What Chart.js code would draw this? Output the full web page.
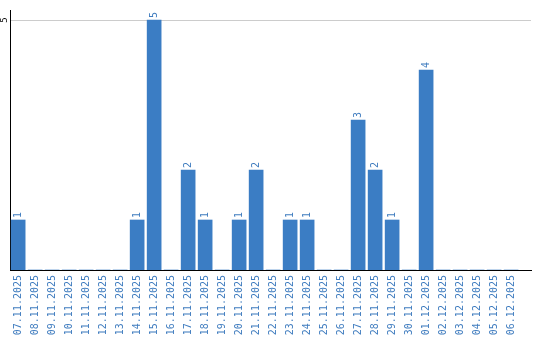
<!DOCTYPE html>
<html><head><meta charset="utf-8">
<script src="https://cdn.jsdelivr.net/npm/chart.js@4/dist/chart.umd.min.js"></script>
<style>html,body{margin:0;padding:0;background:#fff}#wrap{width:540px;height:340px}</style>
</head><body><div id="wrap"><canvas id="c" width="540" height="340"></canvas></div>
<script>
const categories = ["07.11.2025","08.11.2025","09.11.2025","10.11.2025","11.11.2025","12.11.2025","13.11.2025","14.11.2025","15.11.2025","16.11.2025","17.11.2025","18.11.2025","19.11.2025","20.11.2025","21.11.2025","22.11.2025","23.11.2025","24.11.2025","25.11.2025","26.11.2025","27.11.2025","28.11.2025","29.11.2025","30.11.2025","01.12.2025","02.12.2025","03.12.2025","04.12.2025","05.12.2025","06.12.2025"];
const counts = [1,0,0,0,0,0,0,1,5,0,2,1,0,1,2,0,1,1,0,0,3,2,1,0,4,0,0,0,0,0];
const yTicks = [5];

const BLUE = '#3b7dc4';
const TEXT_BLUE = '#3f7cbf';
const FONT = '"DejaVu Sans Mono", monospace';

const points = categories.map((c, i) => ({x: i, y: counts[i]}));

const labelPlugin = {
  id: 'labels',
  afterDatasetsDraw(chart) {
    const ctx = chart.ctx;
    const meta = chart.getDatasetMeta(0);
    ctx.save();
    ctx.fillStyle = TEXT_BLUE;
    ctx.font = '10px ' + FONT;
    ctx.textAlign = 'left';
    ctx.textBaseline = 'middle';
    meta.data.forEach((el, i) => {
      const v = counts[i];
      if (!v) return;
      ctx.save();
      ctx.translate(el.x, el.y - 2);
      ctx.rotate(-Math.PI / 2);
      ctx.fillText(String(v), 0, 0);
      ctx.restore();
    });
    const ys = chart.scales.y;
    ctx.fillStyle = '#000';
    ctx.font = '9px ' + FONT;
    ctx.textAlign = 'center';
    yTicks.forEach(t => {
      ctx.save();
      ctx.translate(5, ys.getPixelForValue(t));
      ctx.rotate(-Math.PI / 2);
      ctx.fillText(String(t), 0, 0);
      ctx.restore();
    });
    ctx.restore();
  }
};

new Chart(document.getElementById('c'), {
  type: 'bar',
  data: { datasets: [{ data: points, backgroundColor: BLUE, barThickness: 14, borderWidth: 0 }] },
  plugins: [labelPlugin],
  options: {
    responsive: false,
    animation: false,
    layout: { padding: { left: 0, top: 10, right: 9, bottom: 0 } },
    plugins: { legend: { display: false }, tooltip: { enabled: false } },
    scales: {
      x: {
        type: 'linear',
        offset: false,
        min: -0.48, max: 30.17,
        afterBuildTicks: (axis) => { axis.ticks = categories.map((_, i) => ({ value: i })); },
        afterFit: (s) => { s.height = 70; s.paddingLeft = 0; s.paddingRight = 0; },
        grid: { display: false, drawTicks: false, offset: false },
        border: { display: true, color: '#000', width: 1 },
        ticks: {
          autoSkip: false, maxRotation: 90, minRotation: 90, padding: 5,
          color: TEXT_BLUE, font: { family: FONT, size: 10 },
          callback: (v) => categories[v]
        }
      },
      y: {
        min: 0, max: 5.2,
        afterBuildTicks: (axis) => { axis.ticks = yTicks.map(v => ({ value: v })); },
        afterFit: (s) => { s.width = 10; s.paddingTop = 0; s.paddingBottom = 0; },
        grid: { display: true, color: '#cccccc', drawTicks: false },
        border: { display: true, color: '#000', width: 1 },
        ticks: { display: false }
      }
    }
  }
});
</script></body></html>
